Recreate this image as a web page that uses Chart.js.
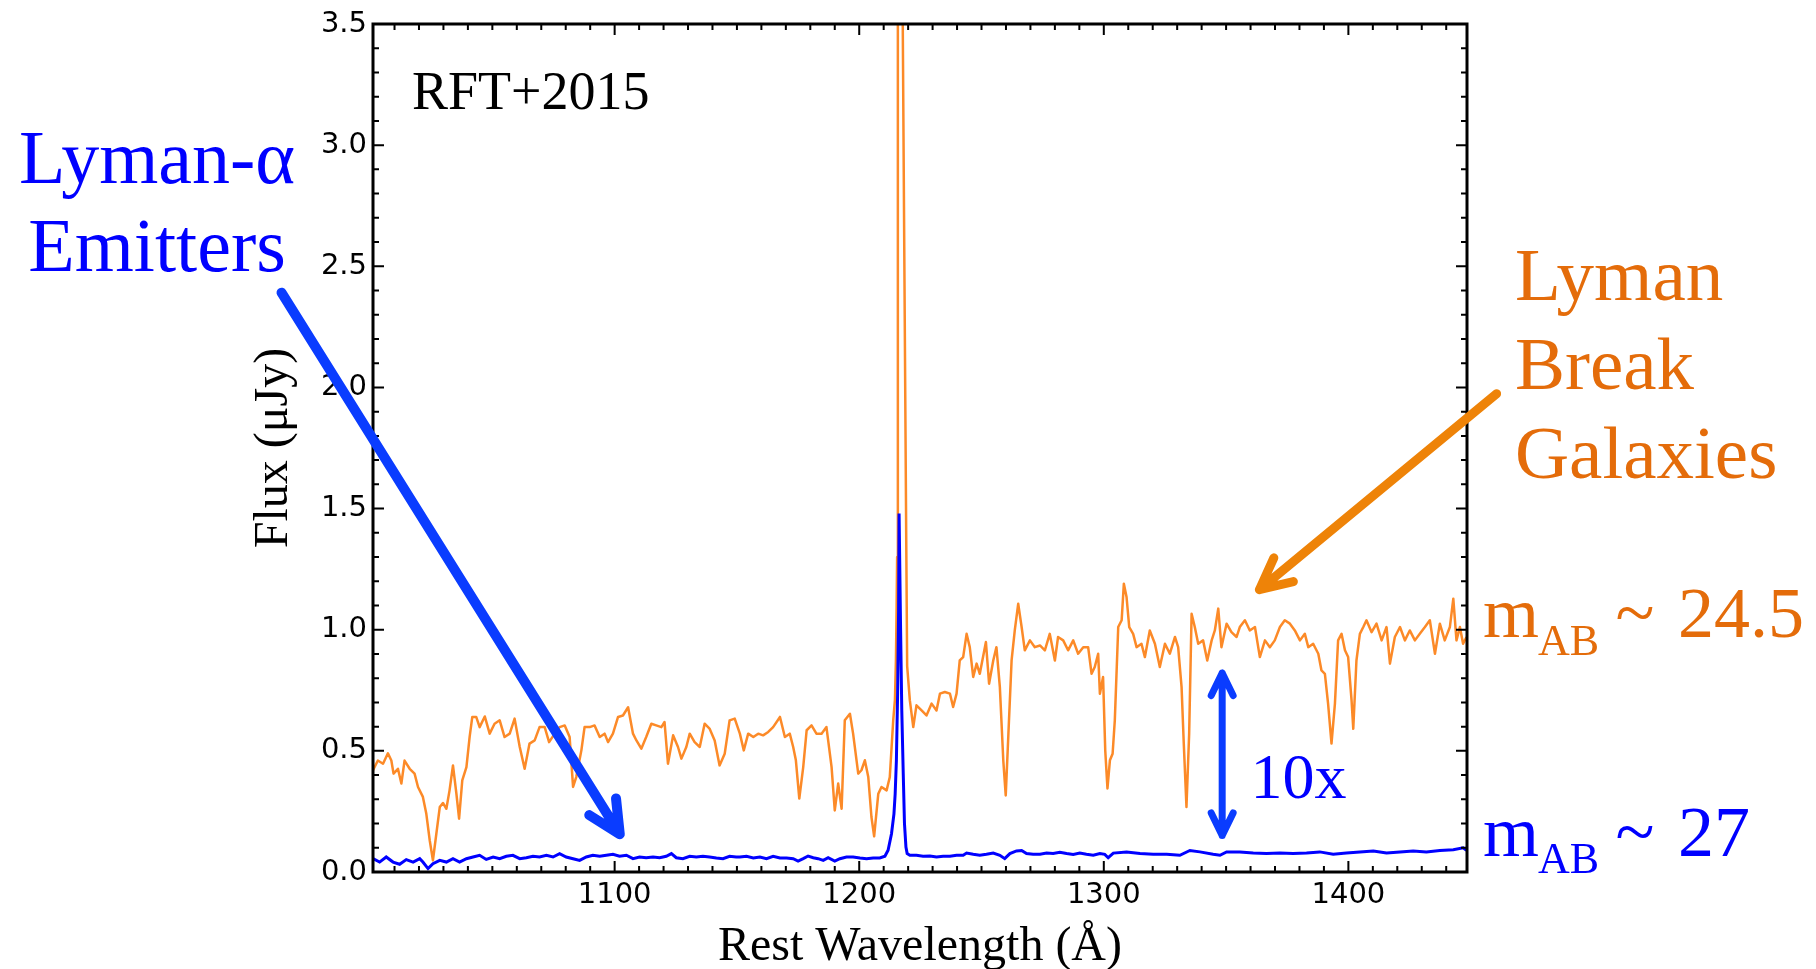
<!DOCTYPE html>
<html>
<head>
<meta charset="utf-8">
<script src="https://cdn.jsdelivr.net/npm/chart.js@4/dist/chart.umd.min.js"></script>
<style>
  html, body { margin: 0; padding: 0; background: #fff; }
  canvas { display: block; }
</style>
</head>
<body>
<canvas id="chart" width="1816" height="969"></canvas>
<script>
// Lyman break galaxy composite (orange)
const lbgWave = [1001.2,1003.2,1005.3,1007.3,1008.7,1009.6,1011.4,1012.8,1014.1,1016.2,1018.2,1019.6,1021.6,1023.0,1024.4,1025.7,1027.1,1028.5,1029.8,1031.2,
  1032.5,1033.9,1035.3,1036.4,1037.7,1039.4,1040.7,1041.8,1043.4,1044.8,1046.9,1048.9,1050.9,1053.0,1055.0,1057.1,1059.1,1061.2,1063.2,1065.2,
  1067.3,1069.3,1071.4,1073.2,1075.5,1077.5,1079.6,1081.6,1083.0,1084.3,1086.4,1087.7,1089.8,1091.8,1093.9,1095.9,1097.3,1099.3,1101.4,1103.4,
  1105.5,1107.5,1108.9,1110.9,1112.9,1115.0,1117.0,1119.1,1120.4,1121.8,1123.9,1125.9,1127.3,1129.3,1130.7,1132.7,1134.8,1136.8,1138.8,1140.9,
  1142.9,1145.0,1147.0,1149.1,1151.2,1152.8,1154.6,1156.7,1158.7,1160.7,1162.8,1164.8,1167.6,1169.6,1171.6,1173.0,1174.1,1175.5,1177.1,1178.5,
  1180.5,1182.5,1184.6,1186.6,1187.3,1188.7,1190.0,1191.4,1192.8,1194.1,1196.2,1197.5,1199.6,1200.9,1202.3,1203.7,1205.0,1206.1,1207.8,1209.1,
  1211.2,1212.5,1213.9,1214.6,1215.0,1215.3,1215.5,1215.8,1216.5,1217.2,1217.8,1218.6,1219.2,1219.6,1220.7,1222.1,1223.4,1225.5,1227.5,1229.6,
  1231.6,1233.0,1235.0,1237.1,1238.4,1239.8,1241.1,1242.5,1243.9,1245.2,1246.6,1248.0,1249.3,1251.8,1253.1,1254.8,1256.1,1257.5,1258.9,1259.9,
  1261.0,1262.3,1263.6,1265.0,1266.4,1267.7,1269.8,1271.8,1273.9,1275.9,1277.9,1280.0,1281.3,1283.4,1285.4,1287.5,1289.5,1291.6,1293.6,1295.0,
  1296.3,1297.7,1298.4,1299.7,1300.6,1301.5,1302.5,1303.6,1304.5,1305.9,1307.3,1308.2,1309.3,1310.4,1312.0,1313.4,1315.4,1316.8,1318.8,1320.9,
  1322.9,1325.0,1327.0,1329.1,1330.4,1331.8,1332.7,1333.8,1334.9,1335.9,1337.2,1338.6,1340.6,1342.3,1344.1,1345.4,1346.8,1348.1,1350.2,1352.2,
  1354.3,1355.6,1357.7,1359.7,1361.8,1363.8,1365.9,1367.9,1369.9,1372.0,1374.0,1376.1,1378.1,1380.2,1382.2,1383.6,1385.6,1387.7,1389.0,1390.4,
  1391.7,1393.1,1394.5,1395.8,1397.2,1398.6,1399.9,1401.3,1402.0,1403.3,1404.7,1406.1,1407.4,1409.5,1411.5,1413.6,1415.6,1417.0,1419.0,1421.1,
  1423.1,1425.1,1427.2,1429.2,1431.3,1433.3,1435.4,1437.4,1439.4,1441.5,1442.9,1444.2,1445.6,1446.9,1448.3];
const lbgFlux = [0.42,0.46,0.447,0.49,0.46,0.406,0.426,0.365,0.46,0.426,0.406,0.351,0.31,0.24,0.13,0.048,0.158,0.268,0.285,0.261,
  0.337,0.44,0.323,0.22,0.378,0.433,0.557,0.64,0.64,0.598,0.642,0.571,0.612,0.626,0.557,0.571,0.633,0.516,0.426,0.53,
  0.543,0.598,0.598,0.536,0.571,0.598,0.605,0.557,0.351,0.392,0.502,0.598,0.598,0.605,0.557,0.571,0.536,0.571,0.64,0.646,
  0.68,0.571,0.543,0.509,0.557,0.612,0.605,0.598,0.619,0.447,0.564,0.516,0.468,0.516,0.571,0.536,0.516,0.612,0.592,0.543,
  0.44,0.488,0.626,0.633,0.571,0.502,0.571,0.557,0.571,0.564,0.578,0.598,0.64,0.557,0.571,0.516,0.461,0.303,0.433,0.585,
  0.605,0.571,0.571,0.598,0.543,0.433,0.254,0.365,0.261,0.626,0.653,0.571,0.406,0.42,0.461,0.392,0.227,0.147,0.323,0.351,
  0.337,0.392,0.626,0.71,0.87,1.1,1.3,3.6,4.3,4.0,3.5,2.3,1.4,0.85,0.708,0.598,0.688,0.667,0.646,0.695,
  0.667,0.736,0.743,0.736,0.681,0.736,0.873,0.887,0.983,0.928,0.805,0.86,0.818,0.949,0.777,0.873,0.928,0.763,0.461,0.316,
  0.571,0.873,0.997,1.107,1.011,0.915,0.956,0.928,0.935,0.915,0.983,0.873,0.97,0.956,0.915,0.956,0.901,0.928,0.928,0.818,
  0.846,0.901,0.736,0.805,0.5,0.345,0.461,0.488,0.626,1.011,1.039,1.19,1.135,1.011,0.983,0.928,0.942,0.887,0.997,0.942,
  0.846,0.942,0.901,0.97,0.928,0.763,0.53,0.268,0.571,1.066,1.011,0.942,0.956,0.873,0.956,0.997,1.087,0.928,1.025,0.99,
  0.97,1.011,1.039,0.997,1.011,0.887,0.956,0.928,0.956,1.011,1.039,1.025,0.997,0.956,0.983,0.928,0.942,0.901,0.832,0.818,
  0.695,0.53,0.695,0.956,0.983,0.915,0.887,0.708,0.591,0.873,0.983,1.011,1.039,0.99,1.025,0.956,1.011,0.86,0.97,1.011,
  0.956,0.997,0.956,0.983,1.011,1.039,0.901,1.025,0.956,1.011,1.128,0.956,1.011,0.942,0.97];

// Lyman-alpha emitter composite (blue)
const laeWave = [1001.2,1003.9,1006.6,1009.4,1012.1,1014.8,1017.6,1020.3,1021.6,1023.7,1025.7,1028.5,1031.2,1033.9,1036.6,1039.4,1042.1,1044.8,1047.5,1050.3,
  1053.0,1055.7,1058.4,1061.2,1063.9,1066.6,1069.3,1072.1,1074.8,1077.5,1080.2,1083.0,1085.7,1088.4,1091.1,1093.9,1096.6,1099.3,1102.0,1104.8,
  1107.5,1110.2,1112.9,1115.7,1118.4,1121.1,1123.2,1125.2,1127.9,1130.7,1133.4,1136.1,1138.8,1141.6,1144.3,1147.0,1149.7,1151.2,1153.9,1156.7,
  1159.4,1162.1,1164.8,1167.6,1170.3,1173.0,1175.0,1177.1,1179.1,1181.2,1183.2,1185.3,1187.3,1190.0,1192.1,1194.8,1197.5,1200.3,1203.0,1205.7,
  1208.4,1210.5,1211.8,1213.2,1214.2,1214.7,1215.2,1215.7,1216.1,1216.3,1216.9,1217.4,1218.0,1218.5,1219.1,1219.6,1220.7,1223.4,1226.1,1228.9,
  1231.6,1234.3,1237.1,1239.8,1242.5,1243.9,1246.6,1249.3,1252.0,1254.8,1257.5,1259.5,1261.6,1264.3,1266.4,1268.4,1271.1,1273.9,1276.6,1279.3,
  1282.0,1284.8,1287.5,1290.2,1292.9,1295.7,1298.4,1300.4,1301.8,1303.9,1309.3,1314.8,1320.2,1325.7,1331.1,1335.2,1339.3,1344.7,1347.5,1350.2,
  1355.6,1361.1,1366.5,1372.0,1377.4,1382.9,1388.3,1393.8,1399.2,1404.7,1410.2,1415.6,1421.1,1426.5,1431.9,1437.4,1442.9,1446.9,1448.3];
const laeFlux = [0.055,0.041,0.062,0.041,0.032,0.051,0.041,0.055,0.041,0.014,0.034,0.048,0.041,0.055,0.041,0.055,0.062,0.069,0.052,0.062,
  0.055,0.065,0.069,0.055,0.059,0.065,0.062,0.069,0.062,0.076,0.062,0.055,0.048,0.062,0.069,0.065,0.069,0.073,0.065,0.069,
  0.055,0.062,0.059,0.062,0.059,0.065,0.076,0.059,0.055,0.065,0.062,0.065,0.062,0.058,0.055,0.065,0.062,0.062,0.065,0.058,
  0.062,0.055,0.065,0.058,0.058,0.055,0.045,0.055,0.066,0.059,0.055,0.048,0.059,0.045,0.055,0.062,0.062,0.058,0.055,0.058,
  0.058,0.065,0.09,0.158,0.24,0.323,0.461,0.736,1.08,1.48,1.011,0.667,0.406,0.2,0.103,0.076,0.069,0.069,0.065,0.066,
  0.062,0.065,0.065,0.069,0.069,0.078,0.073,0.069,0.073,0.078,0.069,0.055,0.076,0.087,0.089,0.076,0.073,0.073,0.078,0.076,
  0.081,0.076,0.072,0.078,0.073,0.069,0.076,0.073,0.059,0.078,0.083,0.076,0.073,0.073,0.069,0.089,0.083,0.073,0.069,0.083,
  0.083,0.078,0.076,0.078,0.076,0.078,0.083,0.073,0.078,0.083,0.087,0.078,0.083,0.087,0.083,0.089,0.092,0.1,0.089];

const xTicks = [1100, 1200, 1300, 1400];
const yTicks = [0, 0.5, 1.0, 1.5, 2.0, 2.5, 3.0, 3.5];
const xRange = [1001.2, 1448.5];
const yRange = [0, 3.5];

const blue = '#0000ff', orange = '#e46c0a', arrowBlue = '#0a3cff', arrowOrange = '#ee8308';
const serif = "'Liberation Serif', 'Times New Roman', serif";

// annotations, placed in data coordinates
const notes = [
    { text: 'RFT+2015', x: 1017.1, y: 3.151, color: '#000', size: 54, align: 'left' },
    { text: 'Lyman-α', x: 912.9, y: 2.842, color: blue, size: 76, align: 'center' },
    { text: 'Emitters', x: 912.9, y: 2.482, color: blue, size: 76, align: 'center' },
    { text: 'Lyman', x: 1468.1, y: 2.359, color: orange, size: 75, align: 'left' },
    { text: 'Break', x: 1468.1, y: 1.995, color: orange, size: 75, align: 'left' },
    { text: 'Galaxies', x: 1468.1, y: 1.628, color: orange, size: 75, align: 'left' },
    { text: '10x', x: 1360.0, y: 0.307, color: blue, size: 64, align: 'left' },
    { text: 'm', x: 1455.0, y: 0.968, color: orange, size: 72, align: 'left' },
    { text: 'AB', x: 1477.5, y: 0.894, color: orange, size: 44, align: 'left' },
    { text: '~', x: 1517.2, y: 0.968, color: orange, size: 72, align: 'center' },
    { text: '24.5', x: 1534.8, y: 0.968, color: orange, size: 72, align: 'left' },
    { text: 'm', x: 1455.0, y: 0.065, color: blue, size: 72, align: 'left' },
    { text: 'AB', x: 1477.5, y: -0.005, color: blue, size: 44, align: 'left' },
    { text: '~', x: 1517.2, y: 0.065, color: blue, size: 72, align: 'center' },
    { text: '27', x: 1534.8, y: 0.065, color: blue, size: 72, align: 'left' }
];
const arrows = [
    { from: [963.8, 2.391], to: [1102.1, 0.156], color: arrowBlue, width: 10, head: 36, both: false },
    { from: [1460.6, 1.974], to: [1363.6, 1.165], color: arrowOrange, width: 9, head: 35, both: false },
    { from: [1348.4, 0.151], to: [1348.4, 0.821], color: arrowBlue, width: 7, head: 25, both: true }
];

function drawArrow(ctx, x0, y0, x1, y1, a) {
    const back = Math.atan2(y0 - y1, x0 - x1), spread = 26 * Math.PI / 180;
    ctx.strokeStyle = a.color; ctx.lineWidth = a.width;
    ctx.lineCap = 'round'; ctx.lineJoin = 'round';
    ctx.beginPath();
    ctx.moveTo(x0, y0); ctx.lineTo(x1, y1);
    const tip = (tx, ty, ang) => {
        ctx.moveTo(tx + a.head * Math.cos(ang - spread), ty + a.head * Math.sin(ang - spread));
        ctx.lineTo(tx, ty);
        ctx.lineTo(tx + a.head * Math.cos(ang + spread), ty + a.head * Math.sin(ang + spread));
    };
    tip(x1, y1, back);
    if (a.both) tip(x0, y0, back + Math.PI);
    ctx.stroke();
}

const frame = {
    id: 'frame',
    afterDatasetsDraw(chart) {
        const { ctx, chartArea: a, scales: { x, y } } = chart;
        ctx.save();
        ctx.strokeStyle = '#000';
        ctx.lineWidth = 2;
        ctx.beginPath();
        for (let v = 1010; v < x.max; v += 10) {
            const px = x.getPixelForValue(v), len = v % 100 === 0 ? 11 : 6;
            ctx.moveTo(px, a.bottom); ctx.lineTo(px, a.bottom - len);
            ctx.moveTo(px, a.top); ctx.lineTo(px, a.top + len);
        }
        for (let i = 1; i < 35; i++) {
            const py = y.getPixelForValue(i / 10), len = i % 5 === 0 ? 11 : 6;
            ctx.moveTo(a.left, py); ctx.lineTo(a.left + len, py);
            ctx.moveTo(a.right, py); ctx.lineTo(a.right - len, py);
        }
        ctx.stroke();
        ctx.lineWidth = 3;
        ctx.strokeRect(a.left, a.top, a.right - a.left, a.bottom - a.top);
        ctx.restore();
    },
    afterDraw(chart) {
        const { ctx, scales: { x, y } } = chart;
        ctx.save();
        arrows.forEach(a => drawArrow(ctx, x.getPixelForValue(a.from[0]), y.getPixelForValue(a.from[1]),
            x.getPixelForValue(a.to[0]), y.getPixelForValue(a.to[1]), a));
        ctx.textBaseline = 'alphabetic';
        notes.forEach(n => {
            ctx.font = n.size + 'px ' + serif;
            ctx.fillStyle = n.color;
            ctx.textAlign = n.align;
            ctx.fillText(n.text, x.getPixelForValue(n.x), y.getPixelForValue(n.y));
        });
        ctx.restore();
    }
};

const tickFont = { family: "'DejaVu Sans', sans-serif", size: 29 };
const titleFont = { family: serif, size: 48, lineHeight: 1 };

new Chart(document.getElementById('chart'), {
    type: 'scatter',
    data: {
        datasets: [
            { label: 'LAE', data: laeWave.map((w, i) => ({ x: w, y: laeFlux[i] })), showLine: true,
              borderColor: blue, borderWidth: 3, pointRadius: 0, tension: 0, clip: 0 },
            { label: 'LBG', data: lbgWave.map((w, i) => ({ x: w, y: lbgFlux[i] })), showLine: true,
              borderColor: '#fc8a28', borderWidth: 2.5, borderJoinStyle: 'round', pointRadius: 0, tension: 0, clip: 0 }
        ]
    },
    options: {
        responsive: false, animation: false, devicePixelRatio: 1,
        layout: { padding: { left: 0, top: 24, right: 349, bottom: 0 } },
        plugins: { legend: { display: false }, tooltip: { enabled: false } },
        scales: {
            x: {
                type: 'linear', min: xRange[0], max: xRange[1],
                afterBuildTicks: s => { s.ticks = xTicks.map(v => ({ value: v })); },
                afterFit: s => { s.height = 97; },
                grid: { display: false, drawTicks: false }, border: { display: false },
                ticks: { font: tickFont, color: '#000', padding: 6, maxRotation: 0, callback: v => String(v) },
                title: { display: true, text: 'Rest Wavelength (Å)', font: titleFont, color: '#000', padding: { top: 0, bottom: -2 } }
            },
            y: {
                type: 'linear', min: yRange[0], max: yRange[1],
                afterBuildTicks: s => { s.ticks = yTicks.map(v => ({ value: v })); },
                afterFit: s => { s.width = 373; },
                grid: { display: false, drawTicks: false }, border: { display: false },
                ticks: { font: tickFont, color: '#000', padding: 6, callback: v => v.toFixed(1) },
                title: { display: true, text: 'Flux (μJy)', font: titleFont, color: '#000', padding: { top: 250, bottom: 0 } }
            }
        }
    },
    plugins: [frame]
});
</script>
</body>
</html>
